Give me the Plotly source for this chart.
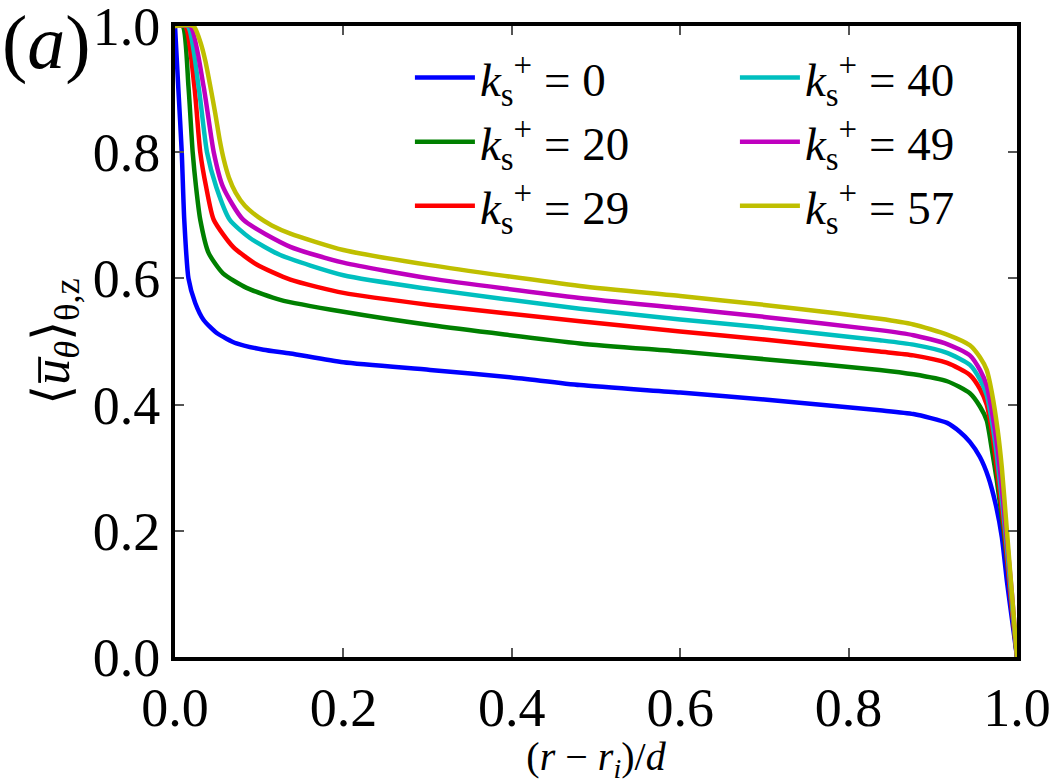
import plotly.graph_objects as go

# ---- data ----
k_labels = ["0", "20", "29", "40", "49", "57"]
colors = ["#0000ff", "#008000", "#ff0000", "#00bfbf", "#bf00bf", "#bfbf00"]
legend_ranks = [1, 3, 5, 2, 4, 6]

x_k0 = [0.0, 0.004, 0.008, 0.011, 0.016, 0.024, 0.034, 0.050, 0.073, 0.105, 0.137, 0.2, 0.303, 0.4,
        0.481, 0.6, 0.7, 0.837, 0.877, 0.917, 0.932, 0.944, 0.956, 0.966, 0.975, 0.982, 0.988, 0.994, 1.0]
y_k0 = [1.0, 0.9, 0.80, 0.693, 0.60, 0.561, 0.534, 0.513, 0.497, 0.487, 0.481, 0.467, 0.455, 0.443,
        0.431, 0.419, 0.408, 0.391, 0.385, 0.371, 0.357, 0.341, 0.317, 0.285, 0.24, 0.19, 0.12, 0.06, 0.0]

x_k20 = [0.0, 0.009, 0.016, 0.021, 0.025, 0.030, 0.040, 0.057, 0.085, 0.125, 0.2, 0.303, 0.481,
         0.6, 0.7, 0.837, 0.877, 0.917, 0.944, 0.956, 0.964, 0.970, 0.976, 0.984, 0.990, 0.995, 1.0]
y_k20 = [1.0, 1.0, 0.904, 0.80, 0.745, 0.693, 0.640, 0.608, 0.585, 0.566, 0.547, 0.526, 0.497,
         0.484, 0.472, 0.455, 0.448, 0.437, 0.418, 0.397, 0.375, 0.33, 0.28, 0.2, 0.13, 0.065, 0.0]

x_k29 = [0.0, 0.012, 0.023, 0.030, 0.037, 0.046, 0.069, 0.097, 0.137, 0.2, 0.303, 0.481,
         0.6, 0.7, 0.837, 0.877, 0.917, 0.944, 0.956, 0.964, 0.970, 0.975, 0.985, 0.992, 1.0]
y_k29 = [1.0, 1.0, 0.904, 0.80, 0.745, 0.693, 0.650, 0.622, 0.598, 0.577, 0.558, 0.532,
         0.516, 0.503, 0.484, 0.478, 0.466, 0.447, 0.425, 0.40, 0.36, 0.31, 0.2, 0.1, 0.0]

x_k40 = [0.0, 0.015, 0.028, 0.038, 0.049, 0.065, 0.089, 0.125, 0.2, 0.303, 0.481,
         0.6, 0.7, 0.837, 0.877, 0.917, 0.944, 0.956, 0.964, 0.970, 0.976, 0.986, 0.993, 1.0]
y_k40 = [1.0, 1.0, 0.904, 0.80, 0.745, 0.693, 0.664, 0.637, 0.605, 0.583, 0.552,
         0.535, 0.522, 0.502, 0.495, 0.482, 0.463, 0.440, 0.415, 0.375, 0.32, 0.2, 0.1, 0.0]

x_k49 = [0.0, 0.018, 0.034, 0.046, 0.057, 0.081, 0.137, 0.2, 0.303, 0.481,
         0.6, 0.7, 0.837, 0.877, 0.917, 0.944, 0.956, 0.964, 0.970, 0.977, 0.987, 0.994, 1.0]
y_k49 = [1.0, 1.0, 0.904, 0.80, 0.745, 0.693, 0.650, 0.625, 0.600, 0.569,
         0.553, 0.539, 0.518, 0.510, 0.496, 0.478, 0.455, 0.43, 0.39, 0.33, 0.2, 0.1, 0.0]

x_k57 = [0.0, 0.022, 0.030, 0.036, 0.042, 0.048, 0.053, 0.058, 0.064, 0.072, 0.083, 0.099, 0.115,
         0.137, 0.2, 0.303, 0.481, 0.6, 0.7, 0.837, 0.877, 0.917, 0.944, 0.956, 0.964, 0.970,
         0.977, 0.982, 0.988, 0.994, 1.0]
y_k57 = [1.0, 1.0, 0.975, 0.945, 0.904, 0.86, 0.82, 0.788, 0.760, 0.736, 0.715, 0.697, 0.684,
         0.671, 0.645, 0.621, 0.588, 0.572, 0.558, 0.536, 0.527, 0.511, 0.494, 0.475, 0.455, 0.42,
         0.36, 0.30, 0.20, 0.10, 0.0]

xs = [x_k0, x_k20, x_k29, x_k40, x_k49, x_k57]
ys = [y_k0, y_k20, y_k29, y_k40, y_k49, y_k57]

tick_vals = [0.0, 0.2, 0.4, 0.6, 0.8, 1.0]
tick_text = ["0.0", "0.2", "0.4", "0.6", "0.8", "1.0"]

FONT = "Liberation Serif"

fig = go.Figure()
for k, c, r, x, y in zip(k_labels, colors, legend_ranks, xs, ys):
    fig.add_trace(go.Scatter(
        x=x, y=y, mode="lines",
        line=dict(color=c, width=4.5, shape="spline", smoothing=0.6),
        name=f"<i>k</i><sub>s</sub><sup>+</sup> = {k}",
        legendrank=r,
    ))

axis_common = dict(
    range=[0, 1], tickvals=tick_vals, ticktext=tick_text,
    showline=True, linecolor="black", linewidth=4, mirror="allticks",
    ticks="inside", ticklen=9, tickwidth=1.5, tickcolor="#555555",
    showgrid=False, zeroline=False, ticklabeloverflow="allow",
    tickfont=dict(family=FONT, size=54, color="black"),
)

fig.update_layout(
    width=1050, height=784,
    margin=dict(l=175, r=33, t=26, b=127, autoexpand=False),
    paper_bgcolor="white", plot_bgcolor="white",
    font=dict(family=FONT, color="black"),
    xaxis=dict(**axis_common,
               title=dict(text="(<i>r</i> − <i>r<sub>i</sub></i>)/<i>d</i>",
                          font=dict(family=FONT, size=40), standoff=18)),
    yaxis=dict(**axis_common,
               title=dict(text="⟨<i>u̅<sub>θ</sub></i>⟩<sub>θ,z</sub>",
                          font=dict(family=FONT, size=52), standoff=8)),
    showlegend=True,
    legend=dict(
        orientation="h", x=0.279, y=0.977, xanchor="left", yanchor="top",
        bgcolor="rgba(0,0,0,0)", borderwidth=0,
        font=dict(family=FONT, size=47, color="black"),
        entrywidth=250, entrywidthmode="pixels",
        itemwidth=60, tracegroupgap=0,
    ),
    annotations=[dict(
        text="(<i>a</i>)", xref="paper", yref="paper", x=-0.208, y=1.045,
        xanchor="left", yanchor="top", showarrow=False,
        font=dict(family=FONT, size=76, color="black"),
    )],
)

fig.write_html("out.html")
